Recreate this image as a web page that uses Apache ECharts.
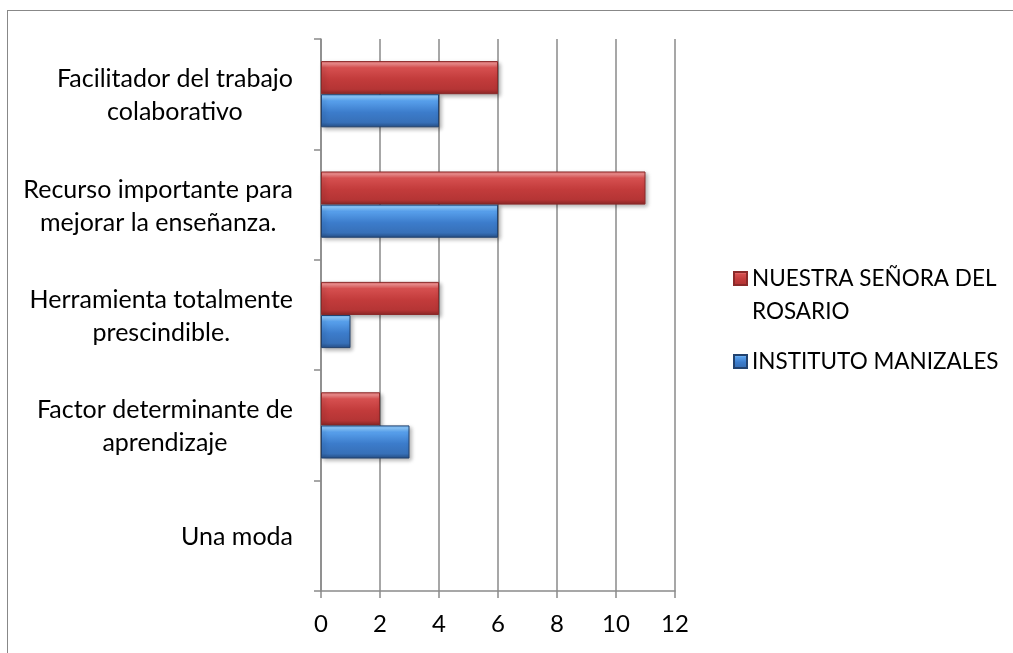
<!DOCTYPE html>
<html>
<head>
<meta charset="utf-8">
<script src="https://cdn.jsdelivr.net/npm/echarts@6/dist/echarts.min.js"></script>
<style>
  html, body { margin: 0; padding: 0; background: #fff; }
  #frame {
    position: absolute; left: 7px; top: 10px; width: 1100px; height: 700px;
    border-left: 1.5px solid #888; border-top: 1.5px solid #888;
  }
  #main { position: absolute; left: 0; top: 0; width: 1013px; height: 653px; }
</style>
</head>
<body>
<div id="frame"></div>
<div id="main"></div>
<script>
// categorias (de abajo hacia arriba, como en el original)
var categories = [
  "Una moda",
  "Factor determinante de\naprendizaje",
  "Herramienta totalmente\nprescindible.",
  "Recurso importante para\nmejorar la enseñanza.",
  "Facilitador del trabajo\ncolaborativo"
];
var seriesNames = ["NUESTRA SEÑORA DEL ROSARIO", "INSTITUTO MANIZALES"];
// primera linea vacia para que el icono quede a la altura de la primera linea
var legendText = ["\nNUESTRA SEÑORA DEL\nROSARIO", "INSTITUTO MANIZALES"];
var rosarioValues = [0, 2, 4, 11, 6];
var manizalesValues = [0, 3, 1, 6, 4];
var xTicks = [0, 12, 2]; // min, max, interval

var FONT = "Lato";

var chart = echarts.init(document.getElementById("main"));

function redFill() {
  return new echarts.graphic.LinearGradient(0, 0, 0, 1, [
    { offset: 0, color: "#e07070" },
    { offset: 0.08, color: "#f28e8e" },
    { offset: 0.2, color: "#d65050" },
    { offset: 0.55, color: "#c23b3b" },
    { offset: 0.85, color: "#b53535" },
    { offset: 1, color: "#8c2727" }
  ]);
}
function blueFill() {
  return new echarts.graphic.LinearGradient(0, 0, 0, 1, [
    { offset: 0, color: "#72b4f5" },
    { offset: 0.08, color: "#8ccaff" },
    { offset: 0.2, color: "#58a0ec" },
    { offset: 0.55, color: "#3c7ccb" },
    { offset: 0.85, color: "#3770b8" },
    { offset: 1, color: "#264f86" }
  ]);
}

// las barras en cero no se dibujan (sin borde ni sombra)
function barData(values) {
  return values.map(function (v) {
    if (v === 0) {
      return { value: v, itemStyle: { borderWidth: 0, shadowBlur: 0, shadowOffsetX: 0, shadowOffsetY: 0, opacity: 0 } };
    }
    return v;
  });
}

var option = {
  animation: false,
  grid: { left: 321, right: 338, top: 39, bottom: 62 },
  legend: {
    orient: "vertical",
    left: 733,
    top: 229,
    padding: 0,
    icon: "rect",
    itemWidth: 13,
    itemHeight: 13,
    itemGap: 17,
    data: seriesNames,
    formatter: function (name) {
      return legendText[seriesNames.indexOf(name)];
    },
    textStyle: { fontFamily: FONT, fontSize: 22.5, lineHeight: 33, color: "#000" }
  },
  xAxis: {
    type: "value",
    min: xTicks[0],
    max: xTicks[1],
    interval: xTicks[2],
    axisLine: { show: true, lineStyle: { color: "#8a8a8a", width: 1.5 } },
    axisTick: { show: true, length: 7, lineStyle: { color: "#8a8a8a", width: 1.5 } },
    splitLine: { show: true, lineStyle: { color: "#8a8a8a", width: 1.5 } },
    axisLabel: { fontFamily: FONT, fontSize: 24, color: "#000", margin: 21 }
  },
  yAxis: {
    type: "category",
    data: categories,
    axisLine: { show: true, lineStyle: { color: "#8a8a8a", width: 1.5 } },
    axisTick: { show: true, length: 7, inside: false, lineStyle: { color: "#8a8a8a", width: 1.5 } },
    axisLabel: {
      fontFamily: FONT, fontSize: 25, lineHeight: 33, color: "#000", margin: 28,
      padding: [3, 0, 0, 0],
      formatter: function (v) {
        return v.split("\n").map(function (l) { return "{c|" + l + "}"; }).join("\n");
      },
      rich: { c: { align: "center", fontFamily: FONT, fontSize: 25, lineHeight: 33, color: "#000" } }
    }
  },
  series: [
    {
      name: seriesNames[0],
      type: "bar",
      data: barData(rosarioValues),
      barGap: "0%",
      barCategoryGap: "40%",
      itemStyle: {
        color: redFill(),
        borderColor: "#8b2a2a",
        borderWidth: 1,
        shadowColor: "rgba(0,0,0,0.3)",
        shadowBlur: 4,
        shadowOffsetX: 2,
        shadowOffsetY: 2
      }
    },
    {
      name: seriesNames[1],
      type: "bar",
      data: barData(manizalesValues),
      barGap: "0%",
      barCategoryGap: "40%",
      itemStyle: {
        color: blueFill(),
        borderColor: "#22426e",
        borderWidth: 1,
        shadowColor: "rgba(0,0,0,0.3)",
        shadowBlur: 4,
        shadowOffsetX: 2,
        shadowOffsetY: 2
      }
    }
  ]
};

chart.setOption(option);
</script>
</body>
</html>
